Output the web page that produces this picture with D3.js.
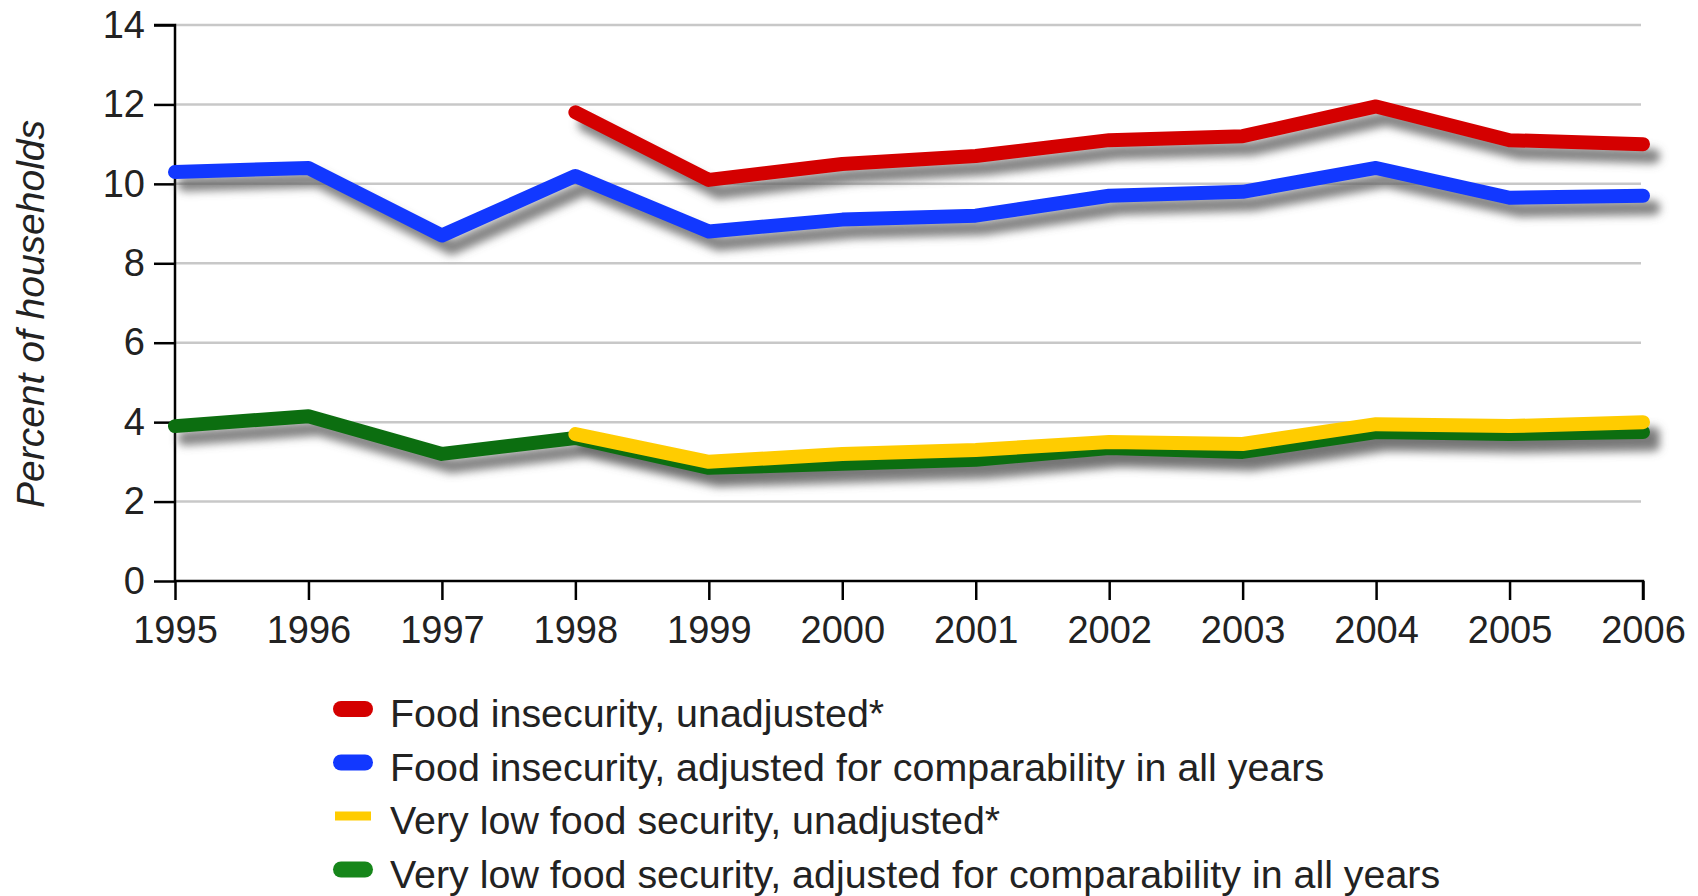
<!DOCTYPE html>
<html>
<head>
<meta charset="utf-8">
<script src="https://cdn.jsdelivr.net/npm/d3@7"></script>
<style>
  html, body { margin: 0; padding: 0; background: #fff; }
  svg { display: block; font-family: "Liberation Sans", Arial, sans-serif; }
</style>
</head>
<body>
<svg id="chart" width="1698" height="896"></svg>
<script>
// ---- data ----
const years = [1995, 1996, 1997, 1998, 1999, 2000, 2001, 2002, 2003, 2004, 2005, 2006];
const foodInsecUnadj = [null, null, null, 11.8, 10.1, 10.5, 10.7, 11.1, 11.2, 11.95, 11.1, 11.0];
const foodInsecAdj   = [10.3, 10.4, 8.7, 10.2, 8.8, 9.1, 9.2, 9.7, 9.8, 10.4, 9.65, 9.7];
const vlfsUnadj      = [null, null, null, 3.7, 3.0, 3.2, 3.3, 3.5, 3.45, 3.95, 3.9, 4.0];
const vlfsAdj        = [3.9, 4.15, 3.2, 3.6, 2.85, 2.95, 3.05, 3.35, 3.25, 3.75, 3.7, 3.75];
const yTicks = [0, 2, 4, 6, 8, 10, 12, 14];
const seriesNames = [
  "Food insecurity, unadjusted*",
  "Food insecurity, adjusted for comparability in all years",
  "Very low food security, unadjusted*",
  "Very low food security, adjusted for comparability in all years"
];
const seriesColors = ["#d40000", "#1238ff", "#ffcc00", "#0c6e10"];
const legendColors = ["#d40000", "#1238ff", "#ffcc00", "#16861a"];
const yTitle = "Percent of households";

const seriesValues = [foodInsecUnadj, foodInsecAdj, vlfsUnadj, vlfsAdj];
const series = seriesNames.map((name, i) => ({
  name, color: seriesColors[i], legendColor: legendColors[i],
  values: years.map((yr, j) => ({ year: yr, v: seriesValues[i][j] }))
}));
// drawing order: red, blue, green, yellow (yellow on top of green)
const drawOrder = [0, 1, 3, 2];

// ---- layout ----
const svg = d3.select("#chart");
const x = d3.scaleLinear().domain([1995, 2006]).range([175, 1643]);
const y = d3.scaleLinear().domain([0, 14]).range([581, 25]);

const defs = svg.append("defs");
const f = defs.append("filter").attr("id", "shadow")
  .attr("x", "-10%").attr("y", "-50%").attr("width", "120%").attr("height", "200%");
f.append("feGaussianBlur").attr("stdDeviation", 4);

// gridlines
svg.append("g")
  .selectAll("line")
  .data(yTicks.filter(t => t > 0))
  .join("line")
  .attr("x1", x(1995)).attr("x2", x(2006) - 2)
  .attr("y1", d => y(d)).attr("y2", d => y(d))
  .attr("stroke", "#c8c8c8").attr("stroke-width", 2.5);

// axes
const fontSize = 38;
const yAxis = d3.axisLeft(y).tickValues(yTicks).tickSize(21).tickPadding(9);
const gy = svg.append("g").attr("transform", `translate(${x(1995)},0)`).call(yAxis);
const xAxis = d3.axisBottom(x).tickValues(years).tickFormat(d3.format("d")).tickSize(19).tickPadding(16);
const gx = svg.append("g").attr("transform", `translate(0,${y(0)})`).call(xAxis);
[gx, gy].forEach(g => {
  g.select(".domain").attr("stroke", "#000").attr("stroke-width", 2.5);
  g.selectAll(".tick line").attr("stroke", "#000").attr("stroke-width", 2.5);
  g.selectAll(".tick text").attr("fill", "#222").attr("font-size", fontSize)
    .attr("font-family", "'Liberation Sans', Arial, sans-serif");
});
gy.select(".domain").attr("d", `M-21,${y(14)}H0V${y(0)}`);
gx.select(".domain").attr("d", `M${x(1995)},0H${x(2006)}V19`);

// y title
svg.append("text")
  .attr("transform", `translate(44,314) rotate(-90)`)
  .attr("text-anchor", "middle")
  .attr("font-size", 39).attr("font-style", "italic").attr("fill", "#222")
  .text(yTitle);

// lines
const line = d3.line()
  .defined(d => d.v !== null)
  .x(d => x(d.year)).y(d => y(d.v))
  .curve(d3.curveLinear);

const shadowG = svg.append("g").attr("transform", "translate(10,12)").attr("filter", "url(#shadow)");
drawOrder.forEach(i => {
  shadowG.append("path").datum(series[i].values)
    .attr("d", line).attr("fill", "none")
    .attr("stroke", "#666").attr("stroke-opacity", 0.8)
    .attr("stroke-width", 15).attr("stroke-linejoin", "round").attr("stroke-linecap", "round");
});
const lineG = svg.append("g");
drawOrder.forEach(i => {
  lineG.append("path").datum(series[i].values)
    .attr("d", line).attr("fill", "none")
    .attr("stroke", series[i].color)
    .attr("stroke-width", 14).attr("stroke-linejoin", "round").attr("stroke-linecap", "round");
});

// legend
const legend = svg.append("g");
series.forEach((s, i) => {
  const base = 727 + i * 53.5;
  const cy = base - 18;
  const thin = i === 2;
  const w = thin ? 9 : 16;
  legend.append("line")
    .attr("x1", 341 + 9).attr("x2", 365 + 9).attr("y1", cy + 14).attr("y2", cy + 14)
    .attr("stroke", "#666").attr("stroke-opacity", 0.8).attr("stroke-width", w)
    .attr("stroke-linecap", thin ? "butt" : "round").attr("filter", "url(#shadow)");
  legend.append("line")
    .attr("x1", thin ? 335 : 341).attr("x2", thin ? 371 : 365).attr("y1", cy).attr("y2", cy)
    .attr("stroke", s.legendColor).attr("stroke-width", w)
    .attr("stroke-linecap", thin ? "butt" : "round");
  legend.append("text")
    .attr("x", 390).attr("y", base)
    .attr("font-size", 39.4).attr("fill", "#222")
    .text(s.name);
});
</script>
</body>
</html>
